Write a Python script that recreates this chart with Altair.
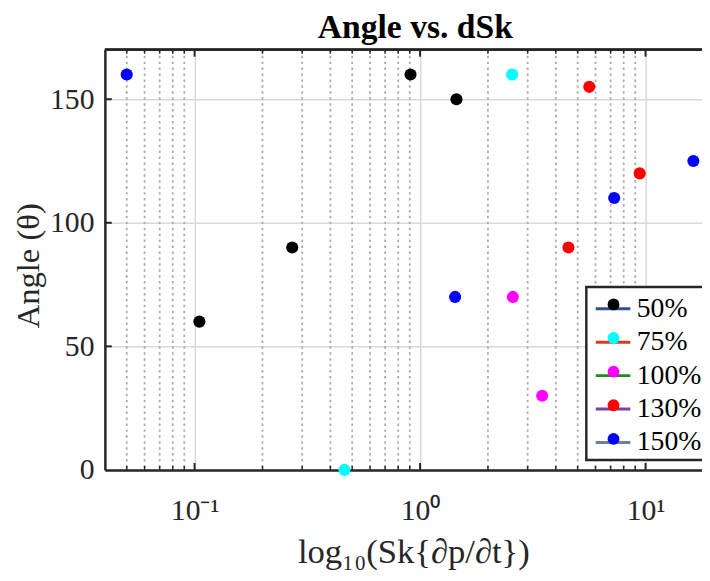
import altair as alt
import pandas as pd

# ---------------- data ----------------
series_names = ["50%", "75%", "100%", "130%", "150%"]
marker_colors = ["#000000", "#00ffff", "#ff00ff", "#ff0000", "#0000ff"]
line_colors = ["#34508c", "#d4401c", "#1f8a1f", "#7e3fa6", "#6e8096"]

x_50 = [0.105, 0.271, 0.907, 1.45]
y_50 = [60, 90, 160, 150]
x_75 = [0.462, 2.56]
y_75 = [0, 160]
x_100 = [2.58, 3.48]
y_100 = [70, 30]
x_130 = [4.55, 5.63, 9.42]
y_130 = [90, 155, 120]
x_150 = [0.05, 1.43, 7.26, 16.3]
y_150 = [160, 70, 110, 125]

x_major = [0.1, 1, 10]
x_minor = [0.05, 0.06, 0.07, 0.08, 0.09,
           0.2, 0.3, 0.4, 0.5, 0.6, 0.7, 0.8, 0.9,
           2, 3, 4, 5, 6, 7, 8, 9]
y_major = [0, 50, 100, 150]
x_domain = [0.04, 17.8]
y_domain = [0, 170]

title_text = "Angle vs. dSk"
x_title = "log\u2081\u2080(Sk{\u2202p/\u2202t})"
y_title = "Angle (\u03b8)"

# ---------------- tables ----------------
rows = []
for name, xs, ys in zip(series_names, [x_50, x_75, x_100, x_130, x_150],
                        [y_50, y_75, y_100, y_130, y_150]):
    for a, b in zip(xs, ys):
        rows.append({"series": name, "sk": a, "angle": b})
df = pd.DataFrame(rows)
minor_df = pd.DataFrame({"sk": x_minor})
major_df = pd.DataFrame({"sk": x_major})
ymaj_df = pd.DataFrame({"angle": y_major[1:]})

FONT = "Liberation Serif"
AX = "#262626"
W, H = 604, 425

xscale = alt.Scale(type="log", domain=x_domain, nice=False)
yscale = alt.Scale(domain=y_domain, nice=False, zero=False)

x_axis = alt.Axis(
    values=x_major, grid=True, gridColor="#d9d9d9", gridWidth=1.5,
    ticks=False, tickSize=0, domain=True, domainColor=AX, domainWidth=2.5,
    labelExpr="datum.value < 0.5 ? '10\u207b\u00b9' : (datum.value < 5 ? '10\u2070' : '10\u00b9')",
    labelFont=FONT, labelFontSize=30, labelColor=AX, labelBaseline="alphabetic",
    labelPadding=50, labelFlush=False, labelOverlap=False,
    titleFont=FONT, titleFontSize=35, titleFontWeight="normal", titleColor=AX,
    titleX=312, titleY=94, titleBaseline="alphabetic", titleAlign="center",
)
y_axis = alt.Axis(
    values=y_major, grid=True, gridColor="#d9d9d9", gridWidth=1.5,
    ticks=False, tickSize=0, domain=True, domainColor=AX, domainWidth=2.5,
    labelFont=FONT, labelFontSize=30, labelColor=AX, labelPadding=11,
    labelBaseline="middle", labelFlush=False, labelOverlap=False,
    titleFont=FONT, titleFontSize=33, titleFontWeight="normal", titleColor=AX,
    titleX=-77, titleY=218, titleBaseline="middle", titleAlign="center",
)


def X(field="sk"):
    return alt.X(f"{field}:Q", scale=xscale, axis=x_axis, title=x_title)


def Y(field="angle"):
    return alt.Y(f"{field}:Q", scale=yscale, axis=y_axis, title=y_title)


LX, LY = 487, 240

# legend line layer (no data drawn; gives the line-style legend)
legend_lines = alt.Chart(df).transform_filter("false").mark_line(strokeWidth=3).encode(
    x=X(), y=Y(),
    color=alt.Color(
        "series:N",
        scale=alt.Scale(domain=series_names, range=line_colors),
        legend=alt.Legend(
            orient="none", legendX=LX, legendY=LY, title=None,
            symbolType="stroke", symbolSize=1225, symbolStrokeWidth=3, symbolOpacity=1,
            symbolOffset=5,
            labelFont=FONT, labelFontSize=28, labelColor="black", labelOffset=5,
            padding=3, rowPadding=0.8, strokeColor=AX, fillColor="white",
        ),
    ),
)

minor_grid = alt.Chart(minor_df).mark_rule(
    color="#ababab", strokeWidth=1.8, strokeDash=[2.5, 3.5]
).encode(x=X())

minor_ticks_bottom = alt.Chart(minor_df).mark_rule(color=AX, strokeWidth=1.5).encode(
    x=X(), y=alt.value(H), y2=alt.value(H - 4))
minor_ticks_top = alt.Chart(minor_df).mark_rule(color=AX, strokeWidth=1.5).encode(
    x=X(), y=alt.value(0), y2=alt.value(4))
major_ticks_bottom = alt.Chart(major_df).mark_rule(color=AX, strokeWidth=2).encode(
    x=X(), y=alt.value(H), y2=alt.value(H - 7))
major_ticks_top = alt.Chart(major_df).mark_rule(color=AX, strokeWidth=2).encode(
    x=X(), y=alt.value(0), y2=alt.value(7))
left_ticks = alt.Chart(ymaj_df).mark_rule(color=AX, strokeWidth=2).encode(
    y=Y(), x=alt.value(0), x2=alt.value(7))
top_border = alt.Chart(major_df).mark_rule(color=AX, strokeWidth=2.5).encode(
    x=alt.value(0), x2=alt.value(W), y=alt.value(0))

points = alt.Chart(df).mark_circle(size=150, opacity=1).encode(
    x=X(), y=Y(),
    fill=alt.Fill(
        "series:N", sort=series_names,
        scale=alt.Scale(range=marker_colors),
        legend=alt.Legend(
            orient="none", legendX=492.5, legendY=LY + 0.6, title=None,
            symbolType="circle", symbolSize=144, symbolStrokeWidth=0, symbolOpacity=1,
            symbolOffset=5, labelExpr="''",
            labelFont=FONT, labelFontSize=28, labelOffset=5,
            padding=3, rowPadding=6, strokeColor="transparent", fillColor="transparent",
        ),
    ),
)

chart = alt.layer(
    legend_lines, minor_grid, minor_ticks_bottom, minor_ticks_top,
    major_ticks_bottom, major_ticks_top, left_ticks, top_border, points,
).properties(
    width=W, height=H,
    padding={"left": 98, "top": 39, "right": 0, "bottom": 100},
    autosize=alt.AutoSizeParams(type="none"),
    title=alt.Title(title_text, font=FONT, fontSize=34, fontWeight="bold", color="black",
                    anchor="middle", dx=12, dy=36, offset=13, baseline="alphabetic",
                    frame="group"),
    background="white",
).configure_view(stroke=None).configure_legend(strokeWidth=2.5)

chart.save("out.html", embed_options={"renderer": "svg", "actions": False})
